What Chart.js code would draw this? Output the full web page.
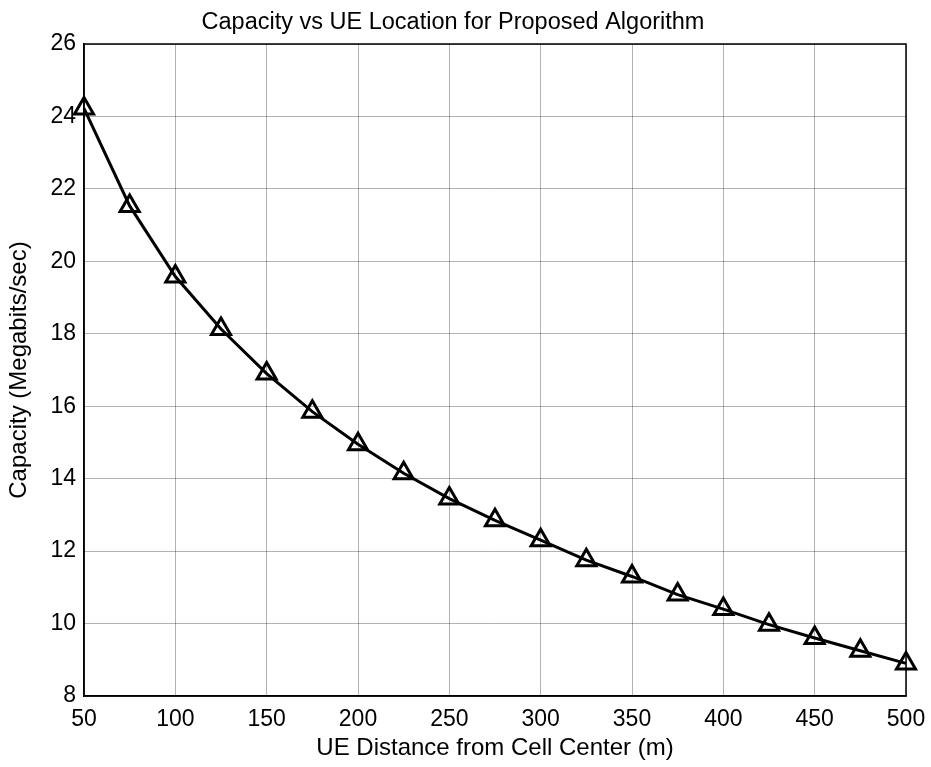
<!DOCTYPE html>
<html>
<head>
<meta charset="utf-8">
<script src="https://cdn.jsdelivr.net/npm/chart.js@4"></script>
<style>
  html, body { margin: 0; padding: 0; background: #fff; }
  #wrap { width: 931px; height: 767px; }
</style>
</head>
<body>
<div id="wrap"><canvas id="capacity_chart"></canvas></div>
<script>
// UE distance (m) and capacity (Megabits/sec)
const distances = [50, 75, 100, 125, 150, 175, 200, 225, 250, 275, 300, 325, 350, 375, 400, 425, 450, 475, 500];
const capacity = [24.22, 21.53, 19.58, 18.13, 16.9, 15.85, 14.95, 14.15, 13.45, 12.85, 12.3, 11.75, 11.3, 10.8, 10.4, 9.97, 9.6, 9.25, 8.9];
const xTicks = [50, 100, 150, 200, 250, 300, 350, 400, 450, 500];
const yTicks = [8, 10, 12, 14, 16, 18, 20, 22, 24, 26];

const points = [];
for (let i = 0; i < distances.length; i++) {
  points.push({ x: distances[i], y: capacity[i] });
}

const fontFam = '"Liberation Sans", Arial, sans-serif';

// box around the axes, like MATLAB
const boxPlugin = {
  id: 'box',
  afterDraw(chart) {
    const a = chart.chartArea;
    const c = chart.ctx;
    c.save();
    c.strokeStyle = '#000';
    c.lineWidth = 1.5;
    c.strokeRect(a.left, a.top, a.right - a.left, a.bottom - a.top);
    c.restore();
  }
};

new Chart(document.getElementById('capacity_chart'), {
  type: 'line',
  data: {
    datasets: [{
      label: 'Capacity',
      data: points,
      borderColor: '#000',
      borderWidth: 3,
      tension: 0,
      pointStyle: 'triangle',
      pointRadius: 11,
      pointBorderWidth: 3,
      pointBorderColor: '#000',
      pointBackgroundColor: 'rgba(0,0,0,0)',
      clip: false
    }]
  },
  options: {
    responsive: true,
    maintainAspectRatio: false,
    animation: false,
    layout: { padding: { left: 0, right: 25, top: 0, bottom: 0 } },
    plugins: {
      legend: { display: false },
      tooltip: { enabled: false },
      title: {
        display: true,
        text: 'Capacity vs UE Location for Proposed Algorithm',
        color: '#000',
        font: { family: fontFam, size: 23.5, weight: 'normal' },
        padding: { top: 8.6, bottom: 7.2 }
      }
    },
    scales: {
      x: {
        type: 'linear',
        min: 50,
        max: 500,
        afterBuildTicks: (axis) => { axis.ticks = xTicks.map(v => ({ value: v })); },
        afterFit: (axis) => {
          axis.height = 71;
          axis.paddingLeft = 0;
          axis.paddingRight = 0;
        },
        grid: { color: 'rgba(0,0,0,0.3)', lineWidth: 1, drawTicks: false },
        border: { color: '#000', width: 1.5 },
        ticks: { color: '#000', padding: 10, font: { family: fontFam, size: 23 }, maxRotation: 0 },
        title: {
          display: true,
          text: 'UE Distance from Cell Center (m)',
          color: '#000',
          font: { family: fontFam, size: 24 },
          padding: { top: 4 }
        }
      },
      y: {
        min: 8,
        max: 26,
        afterBuildTicks: (axis) => { axis.ticks = yTicks.map(v => ({ value: v })); },
        afterFit: (axis) => {
          axis.width = 84;
          axis.paddingTop = 0;
          axis.paddingBottom = 0;
        },
        grid: { color: 'rgba(0,0,0,0.3)', lineWidth: 1, drawTicks: false },
        border: { color: '#000', width: 1.5 },
        ticks: { color: '#000', padding: 8, font: { family: fontFam, size: 23 } },
        title: {
          display: true,
          text: 'Capacity (Megabits/sec)',
          color: '#000',
          font: { family: fontFam, size: 24 },
          padding: { top: 5, bottom: 0 }
        }
      }
    }
  },
  plugins: [boxPlugin]
});
</script>
</body>
</html>
